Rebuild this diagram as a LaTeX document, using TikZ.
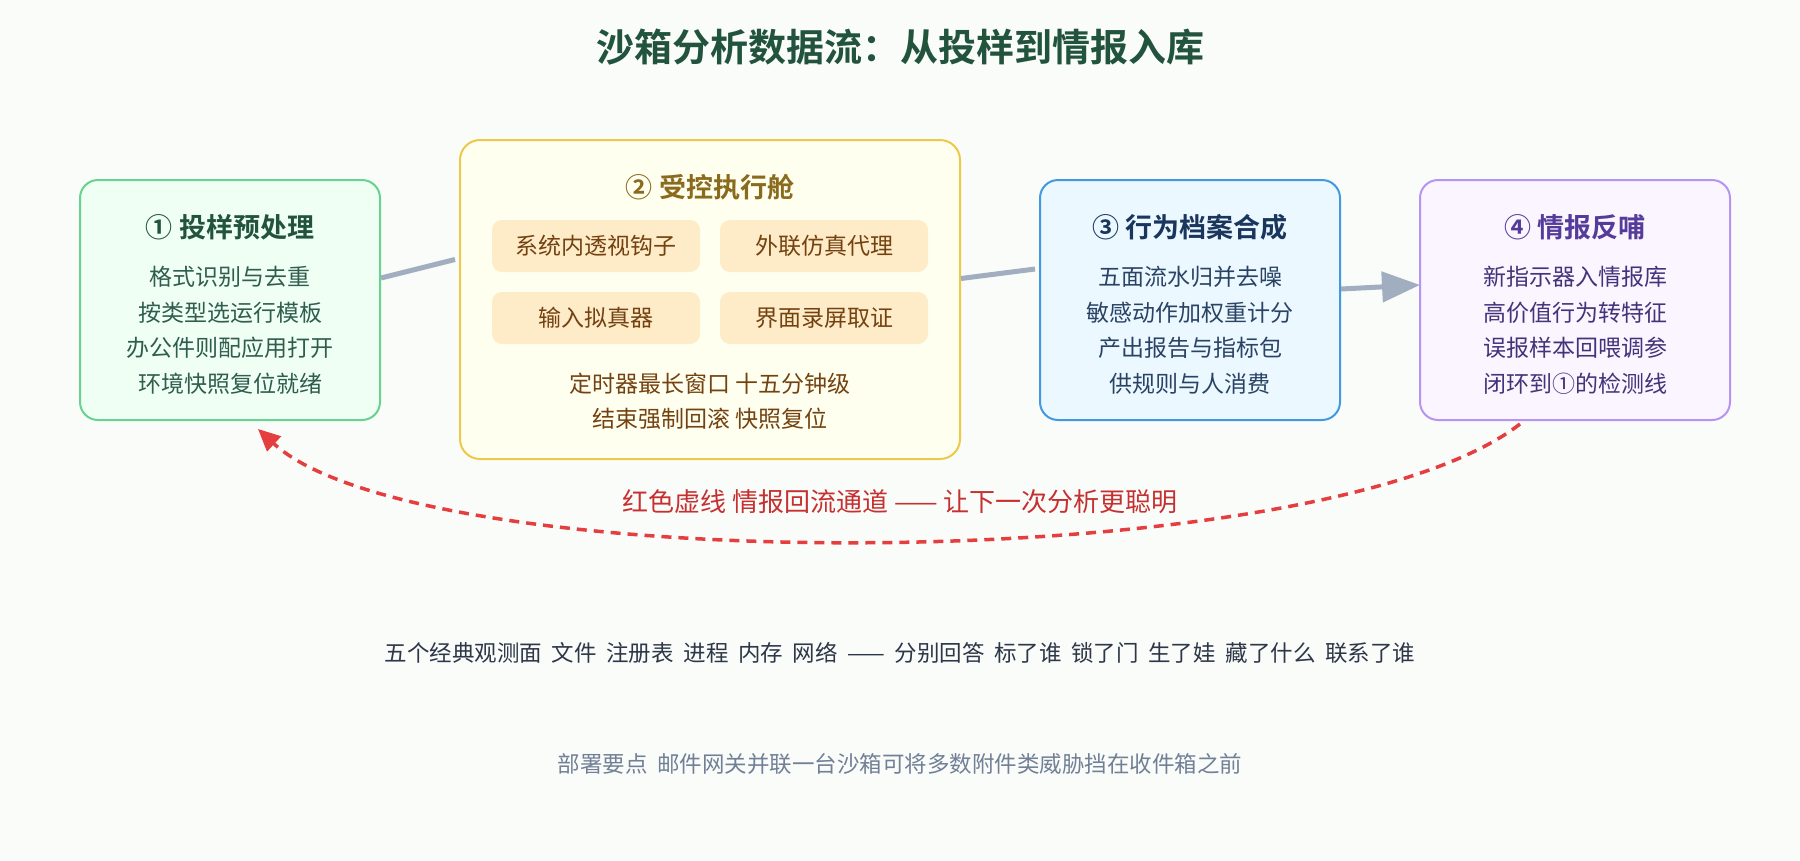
\documentclass[tikz,border=0pt]{standalone}
\usepackage{fontspec}
\setmainfont{Noto Sans CJK SC}[BoldFont={Noto Sans CJK SC Bold}]
\usetikzlibrary{arrows.meta}
\definecolor{bgc}{HTML}{FAFCFA}
\definecolor{titlec}{HTML}{22543D}
\definecolor{gfill}{HTML}{F0FFF4}
\definecolor{gdraw}{HTML}{68D391}
\definecolor{gtitle}{HTML}{22543D}
\definecolor{gtext}{HTML}{2F5D4E}
\definecolor{yfill}{HTML}{FFFFF0}
\definecolor{ydraw}{HTML}{ECC94B}
\definecolor{ytitle}{HTML}{8A6A1C}
\definecolor{ytext}{HTML}{744210}
\definecolor{ifill}{HTML}{FEEBC8}
\definecolor{bfill}{HTML}{EBF8FF}
\definecolor{bdraw}{HTML}{4299E1}
\definecolor{btitle}{HTML}{1A365D}
\definecolor{btext}{HTML}{2A4365}
\definecolor{pfill}{HTML}{FAF5FF}
\definecolor{pdraw}{HTML}{B794F4}
\definecolor{ptitle}{HTML}{553C9A}
\definecolor{ptext}{HTML}{44337A}
\definecolor{conn}{HTML}{A0AEC0}
\definecolor{redc}{HTML}{E53E3E}
\definecolor{redt}{HTML}{C53030}
\definecolor{darkt}{HTML}{2D3748}
\definecolor{grayt}{HTML}{718096}
\newcommand\myWideSpace{\spaceskip=9.6pt\relax}
\tikzset{
  panel/.style={draw, line width=2pt, rounded corners=18pt, inner sep=0pt},
  inbox/.style={fill=ifill, rounded corners=10pt, inner sep=0pt, minimum width=208pt, minimum height=52pt, text=ytext, font=\fontsize{23}{23}\selectfont},
  txt/.style={inner sep=0pt, anchor=base},
  body/.style={txt, font=\fontsize{23}{23}\selectfont},
  head/.style={txt, font=\fontsize{27}{27}\selectfont\bfseries},
  note/.style={txt, font=\fontsize{22.5}{22.5}\selectfont},
  flow/.style={draw=conn, line width=5pt},
}
\begin{document}
\begin{tikzpicture}[x=1pt,y=-1pt]
\useasboundingbox[fill=bgc] (0,0) rectangle (1800,860);

\node[txt, font=\fontsize{38}{38}\selectfont\bfseries, text=titlec] (title) at (900,61.5) {沙箱分析数据流：从投样到情报入库};

% panels
\node[panel, draw=gdraw, fill=gfill, minimum width=300pt, minimum height=240pt] (b1) at (230,300) {};
\node[panel, draw=ydraw, fill=yfill, rounded corners=20pt, minimum width=500pt, minimum height=319pt] (b2) at (710,299.5) {};
\node[panel, draw=bdraw, fill=bfill, minimum width=300pt, minimum height=240pt] (b3) at (1190,300) {};
\node[panel, draw=pdraw, fill=pfill, minimum width=310pt, minimum height=240pt] (b4) at (1575,300) {};

% panel 1
\node[head, text=gtitle] (b1t) at (230,237.3) {① 投样预处理};
\node[body, text=gtext] (b1a) at (230,285.4) {格式识别与去重};
\node[body, text=gtext] (b1b) at (230,321.0) {按类型选运行模板};
\node[body, text=gtext] (b1c) at (230,356.6) {办公件则配应用打开};
\node[body, text=gtext] (b1d) at (230,392.2) {环境快照复位就绪};

% panel 2
\node[head, text=ytitle] (b2t) at (710,197.8) {② 受控执行舱};
\node[inbox] (i1) at (596,246) {系统内透视钩子};
\node[inbox] (i2) at (824,246) {外联仿真代理};
\node[inbox] (i3) at (596,318) {输入拟真器};
\node[inbox] (i4) at (824,318) {界面录屏取证};
\node[body, text=ytext] (b2a) at (710,392.1) {定时器最长窗口 十五分钟级};
\node[body, text=ytext] (b2b) at (710,427.7) {结束强制回滚 快照复位};

% panel 3
\node[head, text=btitle] (b3t) at (1190,237.3) {③ 行为档案合成};
\node[body, text=btext] (b3a) at (1190,285.4) {五面流水归并去噪};
\node[body, text=btext] (b3b) at (1190,321.0) {敏感动作加权重计分};
\node[body, text=btext] (b3c) at (1190,356.6) {产出报告与指标包};
\node[body, text=btext] (b3d) at (1190,392.2) {供规则与人消费};

% panel 4
\node[head, text=ptitle] (b4t) at (1575,237.3) {④ 情报反哺};
\node[body, text=ptext] (b4a) at (1575,285.4) {新指示器入情报库};
\node[body, text=ptext] (b4b) at (1575,321.0) {高价值行为转特征};
\node[body, text=ptext] (b4c) at (1575,356.6) {误报样本回喂调参};
\node[body, text=ptext] (b4d) at (1575,392.2) {闭环到①的检测线};

% flow connectors
\draw[flow] ([yshift=22pt]b1.east) -- ([xshift=-4pt,yshift=40pt]b2.west);
\draw[flow] ([yshift=21pt]b2.east) -- ([xshift=-4pt,yshift=31pt]b3.west);
\draw[flow, -{Triangle[length=38pt,width=30pt]}, shorten >=-1pt] ([yshift=11pt]b3.east) -- ([yshift=15pt]b4.west);

% feedback loop
\draw[redc, line width=3.5pt, dash pattern=on 10pt off 7pt, -{Triangle[length=22pt,width=20pt]}]
  ([xshift=-55pt,yshift=-3pt]b4.south) .. controls (1320,579) and (420,579) .. ([xshift=28pt,yshift=-8pt]b1.south);
\node[txt, font=\fontsize{26}{26}\selectfont, text=redt] (loop) at (900,511.9) {红色虚线 情报回流通道 —— 让下一次分析更聪明};

% notes
\node[note, text=darkt] (note1) at (900,661.5) {\myWideSpace 五个经典观测面 文件 注册表 进程 内存 网络 —— 分别回答 标了谁 锁了门 生了娃 藏了什么 联系了谁};
\node[note, text=grayt] (note2) at (900,772) {\myWideSpace 部署要点 邮件网关并联一台沙箱可将多数附件类威胁挡在收件箱之前};
\end{tikzpicture}
\end{document}
